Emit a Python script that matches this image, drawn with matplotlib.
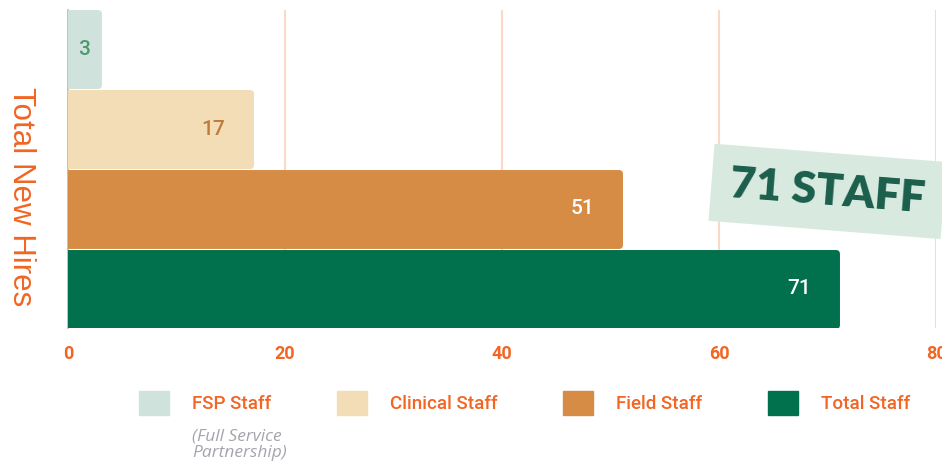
import matplotlib
matplotlib.use('Agg')
from matplotlib import pyplot as plt
from matplotlib.patches import Patch

# data
categories = ['FSP Staff', 'Clinical Staff', 'Field Staff', 'Total Staff']
values = [3, 17, 51, 71]
bar_colors = ['#cfe3dc', '#f3ddb7', '#d68c45', '#00704d']
label_colors = ['#4e9a6e', '#c07a3a', '#ffffff', '#ffffff']
x_ticks = [0, 20, 40, 60, 80]

orange = '#f26522'
grid_col = '#fcd8c6'
cond = ['Roboto', 'DejaVu Sans']

fig = plt.figure(figsize=(9.42, 4.66), dpi=100)
ax = fig.add_axes([0.0722, 0.296, 0.9215, 0.6825])

# top bar first (FSP at top)
ypos = [3, 2, 1, 0]
for y, v, c in zip(ypos, values, bar_colors):
    ax.barh(y, v - 0.25, height=0.9, color=c, edgecolor=c, linewidth=5,
            joinstyle='round', zorder=3)

for y, v, lc in zip(ypos, values, label_colors):
    xt = v - 2.5 if v > 5 else v - 1.0
    ax.text(xt, y, str(v), ha='right', va='center', color=lc,
            fontsize=15, fontweight='medium', family=cond, zorder=4)

ax.set_xlim(0, 80)
ax.set_ylim(-0.49, 3.49)
ax.set_xticks(x_ticks)
ax.set_yticks([])
ax.grid(axis='x', color=grid_col, linewidth=1.5, zorder=0)
for s in ['top', 'right', 'bottom']:
    ax.spines[s].set_visible(False)
ax.spines['left'].set_color('#f7a27e')
ax.spines['left'].set_linewidth(1.2)
ax.tick_params(axis='x', length=0, pad=12, labelcolor=orange, labelsize=13)
for t in ax.get_xticklabels():
    t.set_family(cond)
    t.set_fontweight('bold')

fig.text(0.022, 0.579, 'Total New Hires', rotation=-90, ha='center', va='center',
         color=orange, fontsize=22.5, family='Liberation Sans')

# tape callout
ax.text(70.0, 1.22, '%d STAFF' % values[3], ha='center', va='center', rotation=-4.5,
        color='#1b5e4b', fontsize=32, fontweight='heavy', family='Lato',
        zorder=6, clip_on=False,
        bbox=dict(boxstyle='square,pad=0.42', facecolor='#d8eadf', edgecolor='none'))

# legend
handles = [Patch(facecolor=c, edgecolor=c) for c in bar_colors]
leg = fig.legend(handles, categories, loc='center', bbox_to_anchor=(0.557, 0.135),
                 ncol=4, frameon=False, handlelength=1.6, handleheight=1.6,
                 handletextpad=1.23, columnspacing=3.5,
                 prop={'family': cond, 'size': 13.5, 'weight': 'medium'})
for t in leg.get_texts():
    t.set_color(orange)

fig.text(0.204, 0.046, '(Full Service\nPartnership)', ha='left', va='center',
         color='#a4a4ac', fontsize=12.5, style='italic', family='Open Sans',
         linespacing=1.0)

fig.savefig('out.png', dpi=100)
